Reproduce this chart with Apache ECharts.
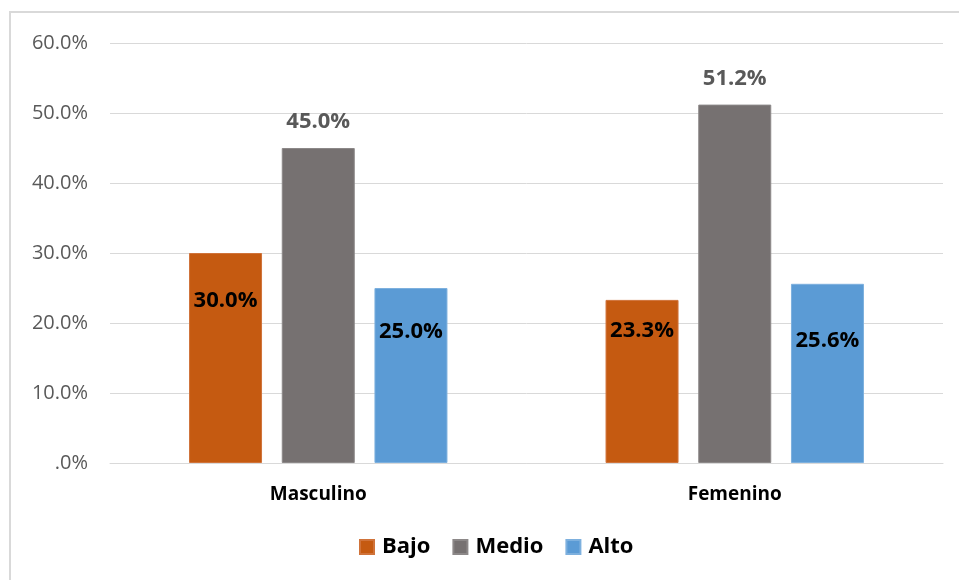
<!DOCTYPE html>
<html>
<head>
<meta charset="utf-8">
<script src="https://cdn.jsdelivr.net/npm/echarts@6/dist/echarts.min.js"></script>
<style>
  html, body { margin: 0; padding: 0; background: #fff; }
  #chart { width: 959px; height: 580px; }
</style>
</head>
<body>
<div id="chart"></div>
<script>
const categories = ['Masculino', 'Femenino'];
const seriesNames = ['Bajo', 'Medio', 'Alto'];
const bajo = [0.300, 0.233];
const medio = [0.450, 0.512];
const alto = [0.250, 0.256];
const yTicks = [0, 0.1, 0.2, 0.3, 0.4, 0.5, 0.6];

const colors = ['#C55A11', '#767171', '#5B9BD5'];
const borders = ['#d0733a', '#8c8888', '#7db0de'];
// how far below the bar top the inside labels sit, per bar
const insideDist = {
    Bajo: [37, 20],
    Alto: [33, 46]
};

const font = '"Open Sans", "Noto Sans", sans-serif';
const chart = echarts.init(document.getElementById('chart'));

function pct(v) {
    return (v * 100).toFixed(1) + '%';
}

function makeSeries(name, values, idx) {
    const inside = name !== 'Medio';
    return {
        name: name,
        type: 'bar',
        barWidth: 73,
        barGap: '27%',
        itemStyle: { color: colors[idx], borderColor: borders[idx], borderWidth: 1 },
        data: values.map(function (v, i) {
            const d = { value: v };
            if (inside) {
                d.label = { position: 'insideTop', distance: insideDist[name][i] };
            }
            return d;
        }),
        label: {
            show: true,
            position: inside ? 'insideTop' : 'top',
            distance: inside ? 40 : 15,
            formatter: function (p) { return pct(p.value); },
            fontFamily: font,
            fontWeight: 'bold',
            fontSize: 22,
            color: inside ? '#000' : '#595959'
        }
    };
}

chart.setOption({
    animation: false,
    textStyle: { fontFamily: font },
    color: colors,
    graphic: [{
        type: 'rect',
        shape: { x: 10, y: 12, width: 980, height: 600 },
        style: { fill: 'none', stroke: '#d9d9d9', lineWidth: 2 },
        silent: true
    }],
    grid: { left: 110, right: 16, top: 43, bottom: 117 },
    legend: {
        data: seriesNames,
        bottom: 17,
        left: 354,
        itemWidth: 14,
        itemHeight: 14,
        itemGap: 22,
        icon: 'rect',
        textStyle: {
            fontFamily: font, fontWeight: 'bold', fontSize: 22, color: '#000',
            padding: [0, 0, 0, 3]
        }
    },
    xAxis: {
        type: 'category',
        data: categories,
        axisLine: { lineStyle: { color: '#d9d9d9' } },
        axisTick: { show: false },
        axisLabel: { fontFamily: font, fontWeight: 'bold', fontSize: 19, color: '#000', margin: 22 }
    },
    yAxis: {
        type: 'value',
        min: yTicks[0],
        max: yTicks[yTicks.length - 1],
        interval: 0.1,
        axisLine: { show: false },
        axisTick: { show: false },
        splitLine: { lineStyle: { color: '#d9d9d9' } },
        axisLabel: {
            fontFamily: font,
            fontSize: 20,
            color: '#595959',
            margin: 22,
            formatter: function (v) { return v === 0 ? '.0%' : pct(v); }
        }
    },
    series: [
        makeSeries('Bajo', bajo, 0),
        makeSeries('Medio', medio, 1),
        makeSeries('Alto', alto, 2)
    ]
});
</script>
</body>
</html>
